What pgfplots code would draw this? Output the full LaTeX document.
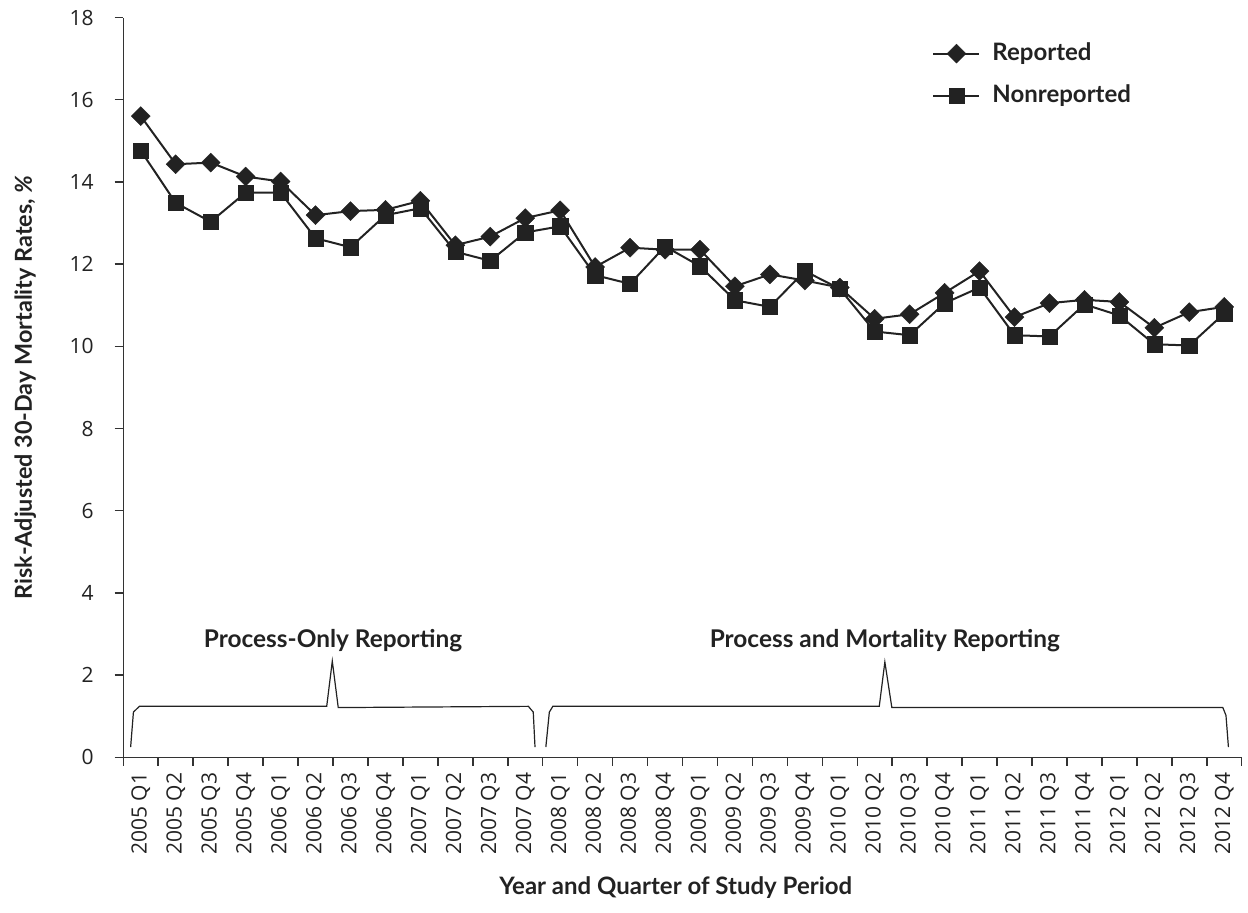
\documentclass[border=0pt]{standalone}
\usepackage{pgfplots}
\pgfplotsset{compat=1.18}
\usepackage{fontspec}
\setmainfont{Lato}
\newfontfamily\tickfont{Open Sans}
\definecolor{ink}{HTML}{222222}
\definecolor{axc}{HTML}{333333}

\pgfplotstableread{
x rep non
0 15.60 14.76
1 14.43 13.49
2 14.47 13.03
3 14.13 13.74
4 14.01 13.74
5 13.19 12.63
6 13.29 12.41
7 13.32 13.19
8 13.54 13.36
9 12.46 12.30
10 12.67 12.08
11 13.12 12.77
12 13.31 12.92
13 11.93 11.73
14 12.40 11.52
15 12.35 12.43
16 12.35 11.95
17 11.46 11.12
18 11.75 10.96
19 11.60 11.83
20 11.43 11.40
21 10.67 10.36
22 10.78 10.27
23 11.30 11.05
24 11.83 11.43
25 10.71 10.27
26 11.05 10.24
27 11.13 11.02
28 11.08 10.75
29 10.45 10.05
30 10.83 10.02
31 10.96 10.80
}\data

\begin{document}
\begin{tikzpicture}
\begin{axis}[
  scale only axis,
  width=559.2pt, height=369.9pt,
  xmin=-0.5, xmax=31.5, ymin=0, ymax=18,
  clip=false,
  axis x line*=bottom, axis y line*=left,
  axis line style={axc, line width=0.75pt},
  tick align=outside,
  major tick length=4.3pt, minor tick length=4.3pt,
  tick style={axc, line width=0.75pt},
  major x tick style={draw=none},
  xtick={0,...,31},
  minor xtick={-0.5,0.5,...,31.5},
  xticklabels={2005 Q1,2005 Q2,2005 Q3,2005 Q4,2006 Q1,2006 Q2,2006 Q3,2006 Q4,2007 Q1,2007 Q2,2007 Q3,2007 Q4,2008 Q1,2008 Q2,2008 Q3,2008 Q4,2009 Q1,2009 Q2,2009 Q3,2009 Q4,2010 Q1,2010 Q2,2010 Q3,2010 Q4,2011 Q1,2011 Q2,2011 Q3,2011 Q4,2012 Q1,2012 Q2,2012 Q3,2012 Q4},
  xticklabel style={rotate=90, anchor=east, font=\tickfont\fontsize{10.5}{12}\selectfont, text=ink},
  ytick={0,2,...,18},
  yticklabel style={font=\tickfont\fontsize{10.5}{12}\selectfont, text=ink, xshift=-7pt},
  /pgf/number format/assume math mode=true,
  xlabel={\textbf{Year and Quarter of Study Period}},
  ylabel={\textbf{Risk-Adjusted 30-Day Mortality Rates, \textit{\%}}},
  xlabel style={font=\fontsize{12}{14}\selectfont, text=ink, at={(axis description cs:0.494,-0.1767)}, anchor=center},
  ylabel style={font=\fontsize{11.7}{14}\selectfont, text=ink, at={(axis description cs:-0.0876,0.5)}, anchor=center},
  legend style={at={(axis cs:22.64,16.61)}, anchor=west, draw=none, fill=none,
    inner sep=0pt, row sep=7.5pt, column sep=5pt,
    font=\bfseries\fontsize{12}{14}\selectfont,
    nodes={inner sep=1pt, text height=9pt, text depth=2.5pt, text=ink}},
  legend cell align=left,
  legend image code/.code={\draw[mark repeat=2,mark phase=2,#1] plot coordinates {(0pt,0pt)(11.5pt,0pt)(23pt,0pt)};},
]
\addplot[ink, line width=1pt, mark=square*, mark size=3.35pt,
  mark options={rotate=45, fill=ink, draw=ink, line width=0.2pt}]
  table[x=x, y=rep] {\data};
\addlegendentry{Reported}
\addplot[ink, line width=1pt, mark=square*, mark size=3.8pt,
  mark options={fill=ink, draw=ink, line width=0.2pt}]
  table[x=x, y=non] {\data};
\addlegendentry{Nonreported}

\draw[ink, line width=0.6pt] (axis cs:-0.29,0.25) -- (axis cs:-0.21,1.10) -- (axis cs:-0.04,1.24) -- (axis cs:5.32,1.24) -- (axis cs:5.48,2.34) -- (axis cs:5.65,1.21) -- (axis cs:11.09,1.24) -- (axis cs:11.23,1.10) -- (axis cs:11.28,0.25);
\draw[ink, line width=0.6pt] (axis cs:11.59,0.25) -- (axis cs:11.69,1.10) -- (axis cs:11.79,1.24) -- (axis cs:21.13,1.24) -- (axis cs:21.29,2.32) -- (axis cs:21.49,1.21) -- (axis cs:30.96,1.21) -- (axis cs:31.05,1.02) -- (axis cs:31.12,0.25);
\node[font=\bfseries\fontsize{12.2}{14}\selectfont, text=ink] at (axis cs:5.5,2.85) {Process-Only Reporting};
\node[font=\bfseries\fontsize{12.2}{14}\selectfont, text=ink] at (axis cs:21.29,2.85) {Process and Mortality Reporting};
\end{axis}
\path[use as bounding box] (-61.65pt,-77.35pt) rectangle (562.35pt,378.65pt);
\end{tikzpicture}
\end{document}
